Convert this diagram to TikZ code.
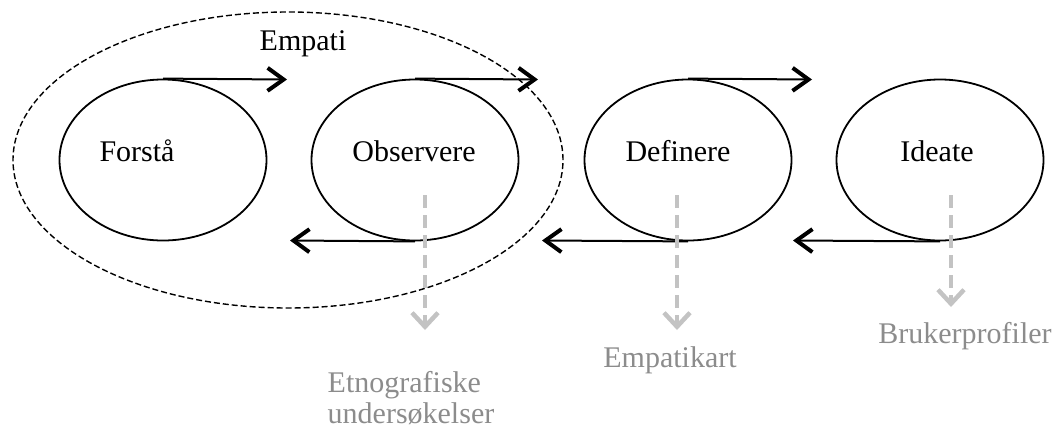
\documentclass[tikz,border=0pt]{standalone}
\usepackage{fontspec}
\setmainfont{Liberation Serif}
\usetikzlibrary{positioning}
\usetikzlibrary{arrows.meta}
\usetikzlibrary{shapes.geometric}
\definecolor{notegray}{RGB}{140,140,140}
\definecolor{arrowgray}{RGB}{195,195,195}
\tikzset{
  phase/.style={draw, ellipse, line width=1.8pt, minimum width=207pt, minimum height=161pt, inner sep=0pt},
  txt/.style={anchor=base, inner sep=0pt},
  flow/.style={line width=2pt, -{Straight Barb[length=16pt,width=23pt,line width=4pt]}},
  hint/.style={draw=arrowgray, line width=3.5pt, dash pattern=on 13pt off 7pt, -{Straight Barb[length=14pt,width=26pt,line width=4.5pt]}}
}
\begin{document}
\begin{tikzpicture}[x=1pt,y=-1pt,font=\fontsize{30}{31}\selectfont]
\useasboundingbox (0,0) rectangle (1061,432);
\node[draw, ellipse, line width=1.4pt, dash pattern=on 6pt off 3pt, minimum width=550pt, minimum height=296pt](empati) at (288,160){};
\node[txt](empatitxt) at (303,50){Empati};

\node[phase](forsta) at (163,160){};
\node[phase](observere) at (415,160){};
\node[phase](definere) at (688,160){};
\node[phase](ideate) at (940,160){};
\node[txt](forstatxt) at (137,161){Forstå};
\node[txt](observeretxt) at (414,161){Observere};
\node[txt](defineretxt) at (678,161){Definere};
\node[txt](ideatetxt) at (937,161){Ideate};

\coordinate (forstaR) at (287,79.5);
\coordinate (observereR) at (538,79.5);
\coordinate (definereR) at (812,79.5);
\coordinate (observereL) at (290,240.5);
\coordinate (definereL) at (542,240.5);
\coordinate (ideateL) at (793,240.5);

\coordinate (observereA) at (425,195);
\coordinate (observereB) at (425,330);
\coordinate (definereA) at (677,195);
\coordinate (definereB) at (677,330);
\coordinate (ideateA) at (951,195);
\coordinate (ideateB) at (951,307);

\node[txt, text=notegray, align=left](etno) at (411,423){Etnografiske\\undersøkelser};
\node[txt, text=notegray](kart) at (670,367){Empatikart};
\node[txt, text=notegray](profil) at (965,343){Brukerprofiler};

\path
(forsta.north) edge[flow] (forstaR)
(observere.north) edge[flow] (observereR)
(definere.north) edge[flow] (definereR)
(observere.south) edge[flow] (observereL)
(definere.south) edge[flow] (definereL)
(ideate.south) edge[flow] (ideateL);

\path
(observereA) edge[hint] (observereB)
(definereA) edge[hint] (definereB)
(ideateA) edge[hint] (ideateB);
\end{tikzpicture}
\end{document}
